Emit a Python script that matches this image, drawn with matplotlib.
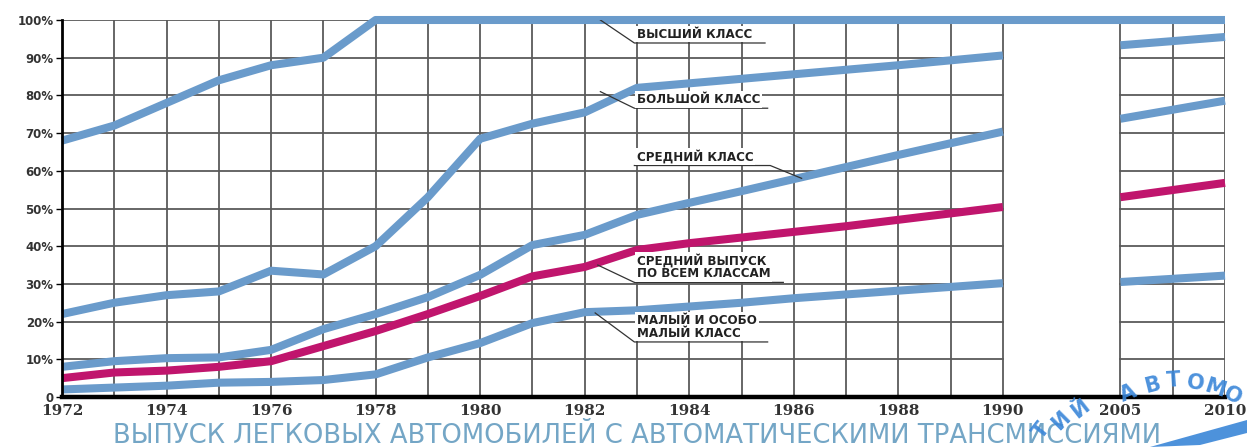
import numpy as np
import matplotlib
matplotlib.use('Agg')
import matplotlib.pyplot as plt
from matplotlib.patches import Polygon

# data
years = [1972, 1973, 1974, 1975, 1976, 1977, 1978, 1979, 1980, 1981,
         1982, 1983, 1984, 1985, 1986, 1987, 1988, 1989, 1990, 2005, 2010]
vysshiy = [68, 72, 78, 84, 88, 90, 100, 100, 100, 100,
           100, 100, 100, 100, 100, 100, 100, 100, 100, 100, 100]
bolshoy = [22, 25, 27, 28, 33.5, 32.5, 40, 53, 68.5, 72.5,
           75.5, 82, 83.2, 84.4, 85.6, 86.8, 88, 89.3, 90.6, 93.3, 95.5]
sredniy = [8, 9.5, 10.3, 10.5, 12.5, 18, 22, 26.5, 32.4, 40.3,
           43, 48.3, 51.5, 54.6, 57.8, 61, 64.2, 67.3, 70.4, 73.8, 78.6]
vse = [5, 6.5, 7, 8, 9.5, 13.5, 17.5, 22, 26.8, 32,
       34.5, 39, 40.8, 42.3, 43.8, 45.3, 47, 48.7, 50.4, 53, 56.8]
malyy = [2, 2.5, 3, 3.8, 4, 4.5, 6, 10.5, 14.3, 19.6,
         22.5, 23, 24, 25, 26.2, 27.2, 28.2, 29.2, 30.2, 30.5, 32.2]

tick_years = [1972, 1974, 1976, 1978, 1980, 1982, 1984, 1986, 1988, 1990, 2005, 2010]
y_ticks = [0, 10, 20, 30, 40, 50, 60, 70, 80, 90, 100]
y_labels = ['0', '10%', '20%', '30%', '40%', '50%', '60%', '70%', '80%', '90%', '100%']
title = 'ВЫПУСК ЛЕГКОВЫХ АВТОМОБИЛЕЙ С АВТОМАТИЧЕСКИМИ ТРАНСМИССИЯМИ'


# broken time axis: one slot per year up to 1990, then 2005 and 2010
def xpos(y):
    return np.interp(y, [1972, 1990, 2005, 2010], [0, 18, 20.25, 22.25])


BLUE = '#6a9bcb'
PINK = '#c0156d'
GRID = '#5a5a5a'

fig = plt.figure(figsize=(12.47, 4.47), dpi=100)
ax = fig.add_axes([62 / 1247, 50 / 447, (1225 - 62) / 1247, (397 - 20) / 447])
ax.set_xlim(0, 22.25)
ax.set_ylim(0, 100)

# grid, left part and right part (gap between 1990 and 2005 is blank)
for yy in range(10, 101, 10):
    ax.plot([0, 18], [yy, yy], color=GRID, lw=1.3, zorder=1)
    ax.plot([20.25, 22.25], [yy, yy], color=GRID, lw=1.3, zorder=1)
for yr in range(1973, 1991):
    ax.plot([xpos(yr)] * 2, [0, 100], color=GRID, lw=1.3, zorder=1)
for xv in [20.25, 21.25, 22.25]:
    ax.plot([xv, xv], [0, 100], color=GRID, lw=1.3, zorder=1)

x = xpos(years)
split = years.index(2005)
for vals, col in [(malyy, BLUE), (sredniy, BLUE), (bolshoy, BLUE), (vse, PINK)]:
    ax.plot(x[:split], vals[:split], color=col, lw=5.8, solid_capstyle='butt',
            solid_joinstyle='round', zorder=3, clip_on=False)
    ax.plot(x[split:], vals[split:], color=col, lw=5.8, solid_capstyle='butt',
            zorder=3, clip_on=False)
# top class runs straight across the gap
ax.plot(x, vysshiy, color=BLUE, lw=5.8, solid_capstyle='butt',
        solid_joinstyle='round', zorder=3, clip_on=False)

for s in ['top', 'right']:
    ax.spines[s].set_visible(False)
ax.spines['left'].set_linewidth(2)
ax.spines['bottom'].set_linewidth(3.2)
ax.spines['left'].set_zorder(5)
ax.spines['bottom'].set_zorder(5)

ax.set_xticks(xpos(tick_years))
ax.set_xticklabels([str(t) for t in tick_years], family='DejaVu Serif',
                   fontweight='bold', fontsize=11, color='#333333')
ax.tick_params(axis='x', length=0, pad=5)
ax.set_yticks(y_ticks)
ax.set_yticklabels(y_labels, fontweight='bold', fontsize=8.5, color='#333333')
ax.tick_params(axis='y', length=4, width=1, pad=2)

# curve labels with leader lines
lab = dict(fontsize=8.6, fontweight='bold', color='#222222', ha='left',
           va='bottom', zorder=6, linespacing=1.0)
box = dict(facecolor='white', edgecolor='none', pad=1.2)
lk = dict(color='#333333', lw=0.9, zorder=6)

ax.plot([10.3, 10.95, 13.45], [100, 93.9, 93.9], **lk)
ax.text(11.0, 94.5, 'ВЫСШИЙ КЛАСС', bbox=box, **lab)

ax.plot([10.3, 10.95, 13.5], [81, 76.6, 76.6], **lk)
ax.text(11.0, 77.2, 'БОЛЬШОЙ КЛАСС', bbox=box, **lab)

ax.plot([10.95, 13.55, 14.15], [61.4, 61.4, 58.0], **lk)
ax.text(11.0, 62.0, 'СРЕДНИЙ КЛАСС', bbox=box, **lab)

ax.plot([10.25, 10.95, 13.8], [35.0, 30.4, 30.4], **lk)
ax.text(11.0, 31.0, 'СРЕДНИЙ ВЫПУСК\nПО ВСЕМ КЛАССАМ', bbox=box, **lab)

ax.plot([10.2, 10.95, 13.5], [22.3, 14.6, 14.6], **lk)
ax.text(11.0, 15.2, 'МАЛЫЙ И ОСОБО\nМАЛЫЙ КЛАСС', bbox=box, **lab)

# caption under the chart
fig.text(637 / 1247, 1 - 436 / 447, title, ha='center', va='center',
         fontsize=18.6, color='#74a6c6')

# watermark letters along an arc, bottom right
wm = [('Т', 1042, 431, 52), ('И', 1061, 421, 45),
      ('Й', 1080, 409, 38), ('А', 1128, 393, 22), ('В', 1152, 385, 14),
      ('Т', 1174, 381, 4), ('О', 1196, 383, -8), ('М', 1215, 388, -18),
      ('О', 1233, 396, -28)]
for ch, px, py, rot in wm:
    fig.text(px / 1247, 1 - py / 447, ch, ha='center', va='center', rotation=rot,
             fontsize=15, fontweight='bold', color='#3a86d8', alpha=0.9, zorder=10)
swoosh = Polygon([[1150 / 1247, 0], [1247 / 1247, 27 / 447], [1247 / 1247, 14 / 447],
                  [1200 / 1247, 2 / 447]], closed=True, transform=fig.transFigure,
                 facecolor='#3a86d8', edgecolor='none', alpha=0.9)
fig.patches.append(swoosh)

fig.savefig('out.png', dpi=100)
